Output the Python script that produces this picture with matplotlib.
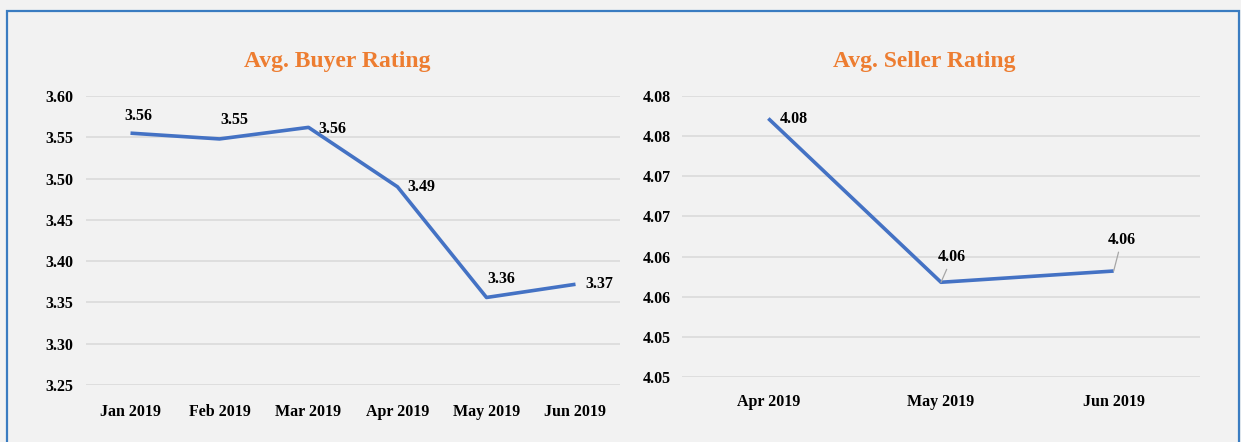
import numpy as np
import matplotlib
matplotlib.use("Agg")
import matplotlib.pyplot as plt
from matplotlib.patches import Rectangle

# data
buyer_months = ["Jan 2019", "Feb 2019", "Mar 2019", "Apr 2019", "May 2019", "Jun 2019"]
buyer_rating = [3.555, 3.548, 3.562, 3.490, 3.356, 3.372]
buyer_ticks = [3.25, 3.30, 3.35, 3.40, 3.45, 3.50, 3.55, 3.60]

seller_months = ["Apr 2019", "May 2019", "Jun 2019"]
seller_rating = [4.0772, 4.0568, 4.0582]
seller_ticks = [4.045, 4.050, 4.055, 4.060, 4.065, 4.070, 4.075, 4.080]
seller_tick_labels = ["4.05", "4.05", "4.06", "4.06", "4.07", "4.07", "4.08", "4.08"]

# label offsets in pixels (dx, dy) and whether a leader line is drawn
buyer_offsets = [(8, 17), (15, 19), (24, -2), (24, 0), (15, 18), (24, 0)]
seller_offsets = [(25, -1), (11, 25), (8, 31)]
seller_leader = [False, True, True]

W, H = 1241, 442
bg = "#f2f2f2"
blue = "#4472c4"
orange = "#ed7d31"
grid_col = "#d9d9d9"
font = "Liberation Serif"

plt.rcParams["font.family"] = [font, "DejaVu Serif"]
plt.rcParams["font.weight"] = "bold"

fig = plt.figure(figsize=(W / 100, H / 100), dpi=100)
fig.patch.set_facecolor(bg)

# blue frame round the whole chart area
fig.patches.append(Rectangle((7 / W, -0.05), (1239 - 7) / W, (H - 11) / H + 0.05,
                             transform=fig.transFigure, fill=False,
                             edgecolor="#3a7cc1", lw=1.6, zorder=0))


def setup(ax, months, ticks, ylim, ypad, xpad):
    ax.set_facecolor("none")
    for s in ax.spines.values():
        s.set_visible(False)
    ax.set_xlim(-0.5, len(months) - 0.5)
    ax.set_ylim(*ylim)
    ax.set_yticks(ticks)
    ax.set_xticks(range(len(months)))
    ax.set_xticklabels(months)
    ax.tick_params(length=0, labelsize=11.5, colors="#000000")
    ax.tick_params(axis="y", pad=ypad)
    ax.tick_params(axis="x", pad=xpad)
    for lbl in ax.get_xticklabels() + ax.get_yticklabels():
        lbl.set_fontweight("bold")
    ax.grid(axis="y", color=grid_col, lw=1.1)
    ax.set_axisbelow(True)


# left panel
ax1 = fig.add_axes([86 / W, 1 - 385 / H, 534 / W, 289 / H])
setup(ax1, buyer_months, buyer_ticks, (3.25, 3.60), 9, 14)
ax1.set_yticklabels(["%.2f" % t for t in buyer_ticks])
x1 = np.arange(len(buyer_months))
ax1.plot(x1, buyer_rating, color=blue, lw=2.6, solid_capstyle="butt", zorder=3)
for i, v in enumerate(buyer_rating):
    ax1.annotate("%.2f" % v, xy=(i, v), xytext=buyer_offsets[i], textcoords="offset pixels",
                 ha="center", va="center", fontsize=11.5, fontweight="bold", color="#000000")

# right panel
ax2 = fig.add_axes([682 / W, 1 - 377 / H, 518 / W, 281 / H])
setup(ax2, seller_months, seller_ticks, (4.045, 4.080), 8, 12)
ax2.set_yticklabels(seller_tick_labels)
x2 = np.arange(len(seller_months))
ax2.plot(x2, seller_rating, color=blue, lw=2.6, solid_capstyle="butt", zorder=3)
for i, v in enumerate(seller_rating):
    arrow = None
    if seller_leader[i]:
        arrow = dict(arrowstyle="-", color="#a6a6a6", lw=0.9, shrinkA=1, shrinkB=0)
    ax2.annotate("%.2f" % v, xy=(i, v), xytext=seller_offsets[i], textcoords="offset pixels",
                 ha="center", va="center", fontsize=11.5, fontweight="bold", color="#000000",
                 arrowprops=arrow)

# titles
fig.text(337 / W, 1 - 61 / H, "Avg. Buyer Rating", ha="center", va="center",
         fontsize=17, fontweight="bold", color=orange)
fig.text(924 / W, 1 - 61 / H, "Avg. Seller Rating", ha="center", va="center",
         fontsize=17, fontweight="bold", color=orange)

fig.savefig("out.png", dpi=100, facecolor=bg)
